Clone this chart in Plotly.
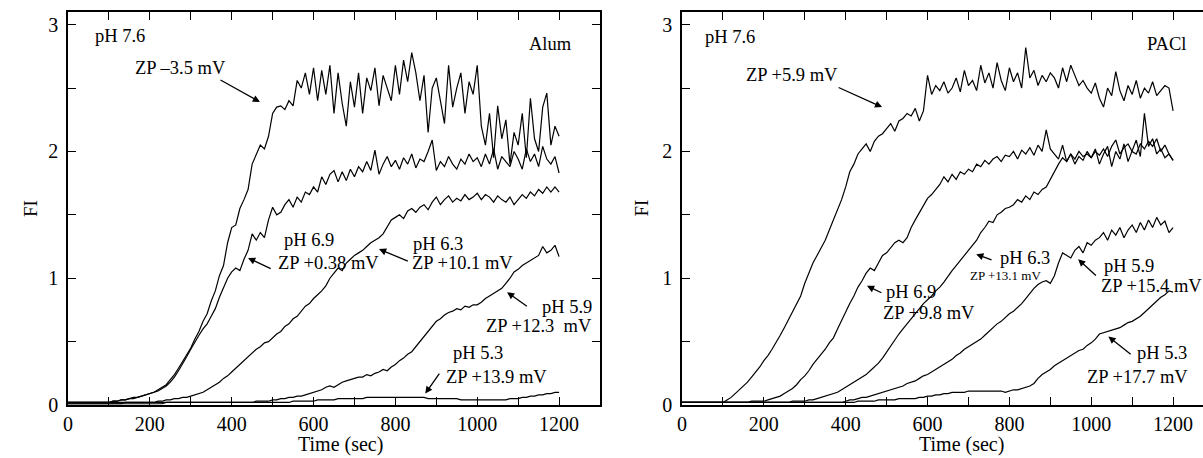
import plotly.graph_objects as go

TIME = list(range(0, 1201, 10))

alum_76 = [0.02,0.02,0.02,0.02,0.02,0.02,0.02,0.02,0.02,0.02,
           0.02,0.03,0.03,0.04,0.04,0.05,0.06,0.06,0.07,0.08,
           0.09,0.10,0.12,0.14,0.16,0.20,0.24,0.29,0.34,0.40,
           0.45,0.52,0.58,0.66,0.72,0.82,0.90,1.02,1.10,1.28,
           1.40,1.42,1.55,1.62,1.70,1.90,1.98,2.05,2.02,2.12,
           2.30,2.35,2.36,2.33,2.40,2.36,2.56,2.50,2.62,2.45,
           2.66,2.40,2.64,2.45,2.68,2.30,2.62,2.38,2.20,2.55,
           2.35,2.62,2.30,2.58,2.48,2.66,2.36,2.60,2.50,2.40,
           2.68,2.45,2.72,2.55,2.78,2.62,2.40,2.60,2.15,2.50,
           2.58,2.40,2.22,2.68,2.35,2.50,2.62,2.30,2.55,2.45,
           2.68,2.20,2.05,2.30,1.95,2.36,2.10,2.25,1.90,2.15,
           2.05,2.30,1.95,2.42,2.10,2.00,2.35,2.46,2.05,2.20,
           2.12]
alum_69 = [0.02,0.02,0.02,0.02,0.02,0.02,0.02,0.02,0.02,0.02,
           0.02,0.03,0.03,0.04,0.04,0.05,0.05,0.06,0.07,0.08,
           0.09,0.10,0.11,0.13,0.15,0.18,0.22,0.27,0.32,0.38,
           0.44,0.50,0.55,0.60,0.64,0.70,0.76,0.85,0.92,1.00,
           1.05,1.08,1.06,1.15,1.22,1.35,1.30,1.36,1.32,1.46,
           1.56,1.50,1.52,1.58,1.62,1.56,1.64,1.60,1.68,1.66,
           1.72,1.68,1.80,1.74,1.82,1.85,1.76,1.84,1.77,1.86,
           1.80,1.88,1.84,1.92,1.85,2.01,1.82,1.90,1.96,1.88,
           1.93,1.86,1.95,1.90,1.98,1.87,1.94,1.92,2.00,2.09,
           1.85,1.92,1.88,1.96,1.90,1.86,1.94,1.90,1.98,1.92,
           1.95,1.88,1.98,1.90,2.02,1.86,1.96,1.92,1.88,2.00,
           1.94,1.86,2.02,1.92,1.98,1.88,2.04,1.94,1.90,1.96,
           1.83]
alum_63 = [0.01,0.01,0.01,0.01,0.01,0.01,0.01,0.01,0.01,0.01,
           0.01,0.01,0.01,0.01,0.02,0.02,0.02,0.02,0.02,0.02,
           0.02,0.02,0.03,0.03,0.04,0.04,0.05,0.05,0.06,0.06,
           0.07,0.08,0.09,0.10,0.12,0.14,0.16,0.18,0.21,0.23,
           0.26,0.29,0.32,0.35,0.38,0.41,0.44,0.46,0.49,0.50,
           0.53,0.56,0.58,0.62,0.64,0.68,0.70,0.74,0.78,0.80,
           0.84,0.87,0.90,0.94,1.00,1.04,1.08,1.06,1.12,1.15,
           1.18,1.20,1.22,1.25,1.28,1.30,1.32,1.35,1.40,1.46,
           1.48,1.50,1.47,1.53,1.55,1.52,1.56,1.58,1.54,1.60,
           1.64,1.58,1.62,1.65,1.60,1.63,1.61,1.66,1.62,1.64,
           1.67,1.62,1.66,1.64,1.60,1.65,1.62,1.60,1.64,1.58,
           1.62,1.66,1.63,1.68,1.65,1.70,1.67,1.72,1.68,1.72,
           1.68]
alum_59 = [0.01,0.01,0.01,0.01,0.01,0.01,0.01,0.01,0.01,0.01,
           0.01,0.01,0.01,0.01,0.01,0.01,0.01,0.01,0.01,0.01,
           0.01,0.01,0.01,0.01,0.02,0.02,0.02,0.02,0.02,0.02,
           0.02,0.02,0.02,0.02,0.02,0.02,0.02,0.02,0.02,0.02,
           0.02,0.02,0.02,0.02,0.02,0.02,0.03,0.03,0.03,0.03,
           0.04,0.04,0.05,0.05,0.06,0.06,0.07,0.07,0.08,0.09,
           0.10,0.11,0.12,0.14,0.15,0.14,0.16,0.18,0.19,0.20,
           0.21,0.22,0.22,0.24,0.23,0.25,0.26,0.28,0.27,0.30,
           0.32,0.35,0.37,0.40,0.42,0.46,0.50,0.54,0.58,0.62,
           0.66,0.68,0.71,0.73,0.74,0.76,0.75,0.78,0.77,0.79,
           0.79,0.81,0.84,0.86,0.88,0.90,0.92,0.96,1.00,1.05,
           1.07,1.10,1.12,1.14,1.16,1.18,1.25,1.20,1.22,1.26,
           1.17]
alum_53 = [0.02,0.02,0.02,0.02,0.02,0.02,0.02,0.02,0.02,0.02,
           0.02,0.02,0.02,0.02,0.02,0.02,0.02,0.02,0.02,0.02,
           0.02,0.02,0.02,0.02,0.02,0.02,0.02,0.02,0.02,0.02,
           0.02,0.02,0.02,0.02,0.02,0.02,0.02,0.02,0.02,0.02,
           0.02,0.02,0.02,0.02,0.02,0.02,0.02,0.02,0.02,0.02,
           0.02,0.02,0.02,0.02,0.02,0.03,0.03,0.03,0.03,0.03,
           0.03,0.04,0.04,0.04,0.04,0.04,0.05,0.05,0.05,0.05,
           0.05,0.05,0.05,0.06,0.06,0.06,0.06,0.06,0.06,0.06,
           0.06,0.06,0.06,0.06,0.06,0.06,0.06,0.06,0.05,0.05,
           0.05,0.05,0.05,0.05,0.05,0.05,0.04,0.04,0.04,0.04,
           0.04,0.04,0.04,0.04,0.04,0.04,0.04,0.04,0.05,0.05,
           0.05,0.06,0.06,0.07,0.07,0.08,0.08,0.09,0.09,0.10,
           0.10]

pacl_76 = [0.02,0.02,0.02,0.02,0.02,0.02,0.02,0.02,0.02,0.02,
           0.02,0.04,0.06,0.09,0.12,0.15,0.18,0.22,0.26,0.30,
           0.35,0.39,0.44,0.49,0.55,0.61,0.67,0.73,0.79,0.86,
           0.96,1.04,1.12,1.18,1.24,1.30,1.38,1.46,1.55,1.62,
           1.72,1.84,1.90,1.98,2.02,2.06,2.00,2.08,2.12,2.14,
           2.18,2.22,2.16,2.24,2.26,2.30,2.28,2.34,2.24,2.32,
           2.60,2.45,2.52,2.48,2.55,2.46,2.50,2.58,2.47,2.64,
           2.52,2.56,2.48,2.68,2.54,2.62,2.50,2.70,2.56,2.48,
           2.66,2.55,2.62,2.50,2.82,2.58,2.64,2.52,2.60,2.55,
           2.62,2.58,2.50,2.66,2.55,2.68,2.60,2.52,2.56,2.50,
           2.46,2.54,2.42,2.35,2.50,2.44,2.63,2.48,2.40,2.52,
           2.45,2.56,2.42,2.50,2.46,2.55,2.44,2.48,2.52,2.50,
           2.32]
pacl_69 = [0.02,0.02,0.02,0.02,0.02,0.02,0.02,0.02,0.02,0.02,
           0.02,0.02,0.02,0.02,0.02,0.02,0.02,0.03,0.03,0.03,
           0.03,0.04,0.05,0.06,0.07,0.09,0.11,0.13,0.16,0.20,
           0.23,0.27,0.32,0.36,0.40,0.44,0.49,0.53,0.60,0.67,
           0.74,0.80,0.86,0.93,0.98,1.04,1.08,1.06,1.12,1.18,
           1.20,1.24,1.28,1.30,1.28,1.32,1.40,1.46,1.52,1.58,
           1.63,1.66,1.70,1.74,1.80,1.76,1.82,1.78,1.84,1.82,
           1.86,1.84,1.90,1.88,1.93,1.90,1.94,1.96,1.92,1.97,
           1.96,2.00,1.94,2.01,1.98,2.03,1.97,2.05,2.00,2.17,
           2.02,1.98,1.94,2.05,1.92,1.98,1.90,1.96,1.93,2.00,
           1.95,2.02,1.90,1.98,2.04,1.88,2.00,1.94,2.06,1.92,
           2.00,2.09,1.96,2.30,2.04,2.10,1.98,2.02,1.95,1.98,
           1.93]
pacl_63 = [0.02,0.02,0.02,0.02,0.02,0.02,0.02,0.02,0.02,0.02,
           0.02,0.02,0.02,0.02,0.02,0.02,0.02,0.02,0.02,0.02,
           0.02,0.02,0.02,0.02,0.02,0.02,0.02,0.03,0.03,0.03,
           0.03,0.04,0.04,0.05,0.06,0.07,0.08,0.09,0.10,0.12,
           0.14,0.16,0.18,0.20,0.22,0.24,0.27,0.30,0.33,0.37,
           0.42,0.47,0.52,0.56,0.60,0.64,0.68,0.72,0.76,0.80,
           0.83,0.86,0.90,0.93,0.97,1.02,1.06,1.10,1.14,1.18,
           1.22,1.26,1.30,1.36,1.40,1.45,1.44,1.50,1.52,1.55,
           1.56,1.58,1.62,1.60,1.65,1.62,1.68,1.66,1.70,1.72,
           1.78,1.85,1.90,1.95,1.92,1.98,1.94,2.00,1.96,1.98,
           1.95,2.00,1.97,2.02,1.96,2.04,2.09,1.98,2.03,2.06,
           2.00,1.98,2.06,2.02,2.08,2.04,2.10,2.00,2.05,1.98,
           1.93]
pacl_59 = [0.02,0.02,0.02,0.02,0.02,0.02,0.02,0.02,0.02,0.02,
           0.02,0.02,0.02,0.02,0.02,0.02,0.02,0.02,0.02,0.02,
           0.02,0.02,0.02,0.02,0.02,0.02,0.02,0.02,0.02,0.02,
           0.02,0.02,0.02,0.02,0.02,0.02,0.02,0.02,0.02,0.02,
           0.03,0.04,0.04,0.05,0.06,0.06,0.07,0.08,0.09,0.10,
           0.11,0.12,0.13,0.14,0.15,0.17,0.18,0.19,0.21,0.23,
           0.24,0.26,0.28,0.30,0.32,0.34,0.36,0.39,0.41,0.44,
           0.46,0.48,0.50,0.52,0.55,0.58,0.61,0.64,0.66,0.69,
           0.72,0.74,0.77,0.80,0.84,0.88,0.92,0.95,0.97,0.98,
           0.96,1.02,1.12,1.20,1.18,1.16,1.22,1.25,1.20,1.28,
           1.26,1.30,1.32,1.36,1.30,1.38,1.34,1.40,1.32,1.38,
           1.42,1.36,1.44,1.38,1.46,1.40,1.48,1.42,1.45,1.36,
           1.40]
pacl_53 = [0.02,0.02,0.02,0.02,0.02,0.02,0.02,0.02,0.02,0.02,
           0.02,0.02,0.02,0.02,0.02,0.02,0.02,0.02,0.02,0.02,
           0.02,0.02,0.02,0.02,0.02,0.02,0.02,0.02,0.02,0.02,
           0.02,0.02,0.02,0.02,0.02,0.02,0.02,0.02,0.02,0.02,
           0.02,0.02,0.02,0.03,0.03,0.03,0.03,0.03,0.04,0.04,
           0.04,0.04,0.04,0.05,0.05,0.05,0.05,0.05,0.06,0.06,
           0.07,0.07,0.08,0.08,0.09,0.09,0.10,0.10,0.10,0.10,
           0.11,0.11,0.11,0.11,0.11,0.11,0.11,0.11,0.11,0.10,
           0.11,0.12,0.12,0.13,0.14,0.15,0.17,0.21,0.24,0.26,
           0.28,0.31,0.33,0.35,0.37,0.39,0.41,0.43,0.44,0.47,
           0.49,0.52,0.56,0.57,0.58,0.59,0.60,0.61,0.63,0.65,
           0.66,0.68,0.70,0.73,0.76,0.79,0.82,0.85,0.87,0.90,
           0.89]

X_TICKS = list(range(0, 1301, 100))
X_LABELS = ["0", "", "200", "", "400", "", "600", "", "800", "", "1000", "", "1200", ""]
Y_TICKS = [0, 0.5, 1, 1.5, 2, 2.5, 3]
Y_LABELS = ["0", "", "1", "", "2", "", "3"]

# annotations: (panel, text, x, y, size)
LABELS = [
    (1, "pH 7.6", 127, 2.91, 18.5), (1, "ZP \u20133.5 mV", 274, 2.66, 18.5), (1, "Alum", 1178, 2.85, 18.5),
    (1, "pH 6.9", 589, 1.30, 18.5), (1, "ZP +0.38 mV", 636, 1.12, 18.5),
    (1, "pH 6.3", 903, 1.27, 18.5), (1, "ZP +10.1 mV", 964, 1.12, 18.5),
    (1, "pH 5.9", 1220, 0.77, 18.5), (1, "ZP +12.3  mV", 1152, 0.62, 18.5),
    (1, "pH 5.3", 1002, 0.41, 18.5), (1, "ZP +13.9 mV", 1047, 0.22, 18.5),
    (2, "pH 7.6", 117, 2.90, 18.5), (2, "ZP +5.9 mV", 269, 2.60, 18.5), (2, "PACl", 1183, 2.85, 18.5),
    (2, "pH 6.3", 839, 1.16, 18.5), (2, "ZP +13.1 mV", 790, 1.02, 13),
    (2, "pH 6.9", 560, 0.895, 18.5), (2, "ZP +9.8 mV", 604, 0.725, 18.5),
    (2, "pH 5.9", 1093, 1.10, 18.5), (2, "ZP +15.4 mV", 1147, 0.94, 18.5),
    (2, "pH 5.3", 1174, 0.41, 18.5), (2, "ZP +17.7 mV", 1112, 0.22, 18.5),
]
# arrows: (panel, tail_x, tail_y, head_x, head_y)
ARROWS = [
    (1, 369, 2.57, 469, 2.39), (1, 499, 1.07, 440, 1.16), (1, 834, 1.13, 760, 1.23),
    (1, 1125, 0.77, 1073, 0.89), (1, 910, 0.26, 873, 0.09),
    (2, 379, 2.51, 489, 2.35), (2, 760, 1.14, 719, 1.19), (2, 491, 0.88, 452, 0.94),
    (2, 1015, 1.01, 968, 1.15), (2, 1100, 0.39, 1042, 0.54),
]

FONT = "Times New Roman, Liberation Serif, serif"
W, H = 1203, 458

fig = go.Figure()
for ys in [alum_76, alum_69, alum_63, alum_59, alum_53]:
    fig.add_trace(go.Scatter(x=TIME, y=ys, mode="lines", line=dict(color="black", width=1.2),
                             xaxis="x", yaxis="y", showlegend=False))
for ys in [pacl_76, pacl_69, pacl_63, pacl_59, pacl_53]:
    fig.add_trace(go.Scatter(x=TIME, y=ys, mode="lines", line=dict(color="black", width=1.2),
                             xaxis="x2", yaxis="y2", showlegend=False))

def xax(domain, rng, anchor):
    return dict(domain=domain, range=rng, anchor=anchor, tickvals=X_TICKS, ticktext=X_LABELS,
                ticks="inside", ticklen=8, tickwidth=1.2, tickcolor="black", showline=True,
                linewidth=1.5, linecolor="black", mirror="ticks", showgrid=False, zeroline=False,
                tickfont=dict(family=FONT, size=20, color="black"), automargin=False)

def yax(anchor, mirror):
    return dict(domain=[0, 1], range=[0, 3.1], anchor=anchor, tickvals=Y_TICKS, ticktext=Y_LABELS,
                ticks="inside", ticklen=8, tickwidth=1.2, tickcolor="black", showline=True,
                linewidth=1.5, linecolor="black", mirror=mirror, showgrid=False, zeroline=False,
                tickfont=dict(family=FONT, size=20, color="black"), automargin=False,
                ticklabelstandoff=4)

left_dom = [68 / W, 600 / W]
right_dom = [682 / W, 1.0]
right_max = (W - 682) / ((600 - 68) / 1300)

annots = []
for p, txt, x, y, s in LABELS:
    sfx = "" if p == 1 else "2"
    annots.append(dict(text=txt, x=x, y=y, xref="x" + sfx, yref="y" + sfx, showarrow=False,
                       font=dict(family=FONT, size=s, color="black")))
for p, tx, ty, hx, hy in ARROWS:
    sfx = "" if p == 1 else "2"
    annots.append(dict(text="", x=hx, y=hy, ax=tx, ay=ty, xref="x" + sfx, yref="y" + sfx,
                       axref="x" + sfx, ayref="y" + sfx, showarrow=True, arrowhead=2,
                       arrowsize=1.1, arrowwidth=1.3, arrowcolor="black"))
for sfx, tx in [("", 667), ("2", 682)]:
    annots.append(dict(text="Time (sec)", x=tx, y=-0.1, xref="x" + sfx, yref="paper",
                       yanchor="middle", showarrow=False, font=dict(family=FONT, size=20, color="black")))
for xp in [18 / W, 641 / W]:
    annots.append(dict(text="FI", x=xp, y=0.5, xref="paper", yref="paper", textangle=-90,
                       showarrow=False, font=dict(family=FONT, size=19, color="black")))

fig.update_layout(
    width=W, height=H, margin=dict(l=0, r=0, t=12, b=53),
    paper_bgcolor="white", plot_bgcolor="white",
    xaxis=xax(left_dom, [0, 1300], "y"), yaxis=yax("x", "ticks"),
    xaxis2=xax(right_dom, [0, right_max], "y2"), yaxis2=yax("x2", False),
    annotations=annots,
)
fig.write_html("out.html")
